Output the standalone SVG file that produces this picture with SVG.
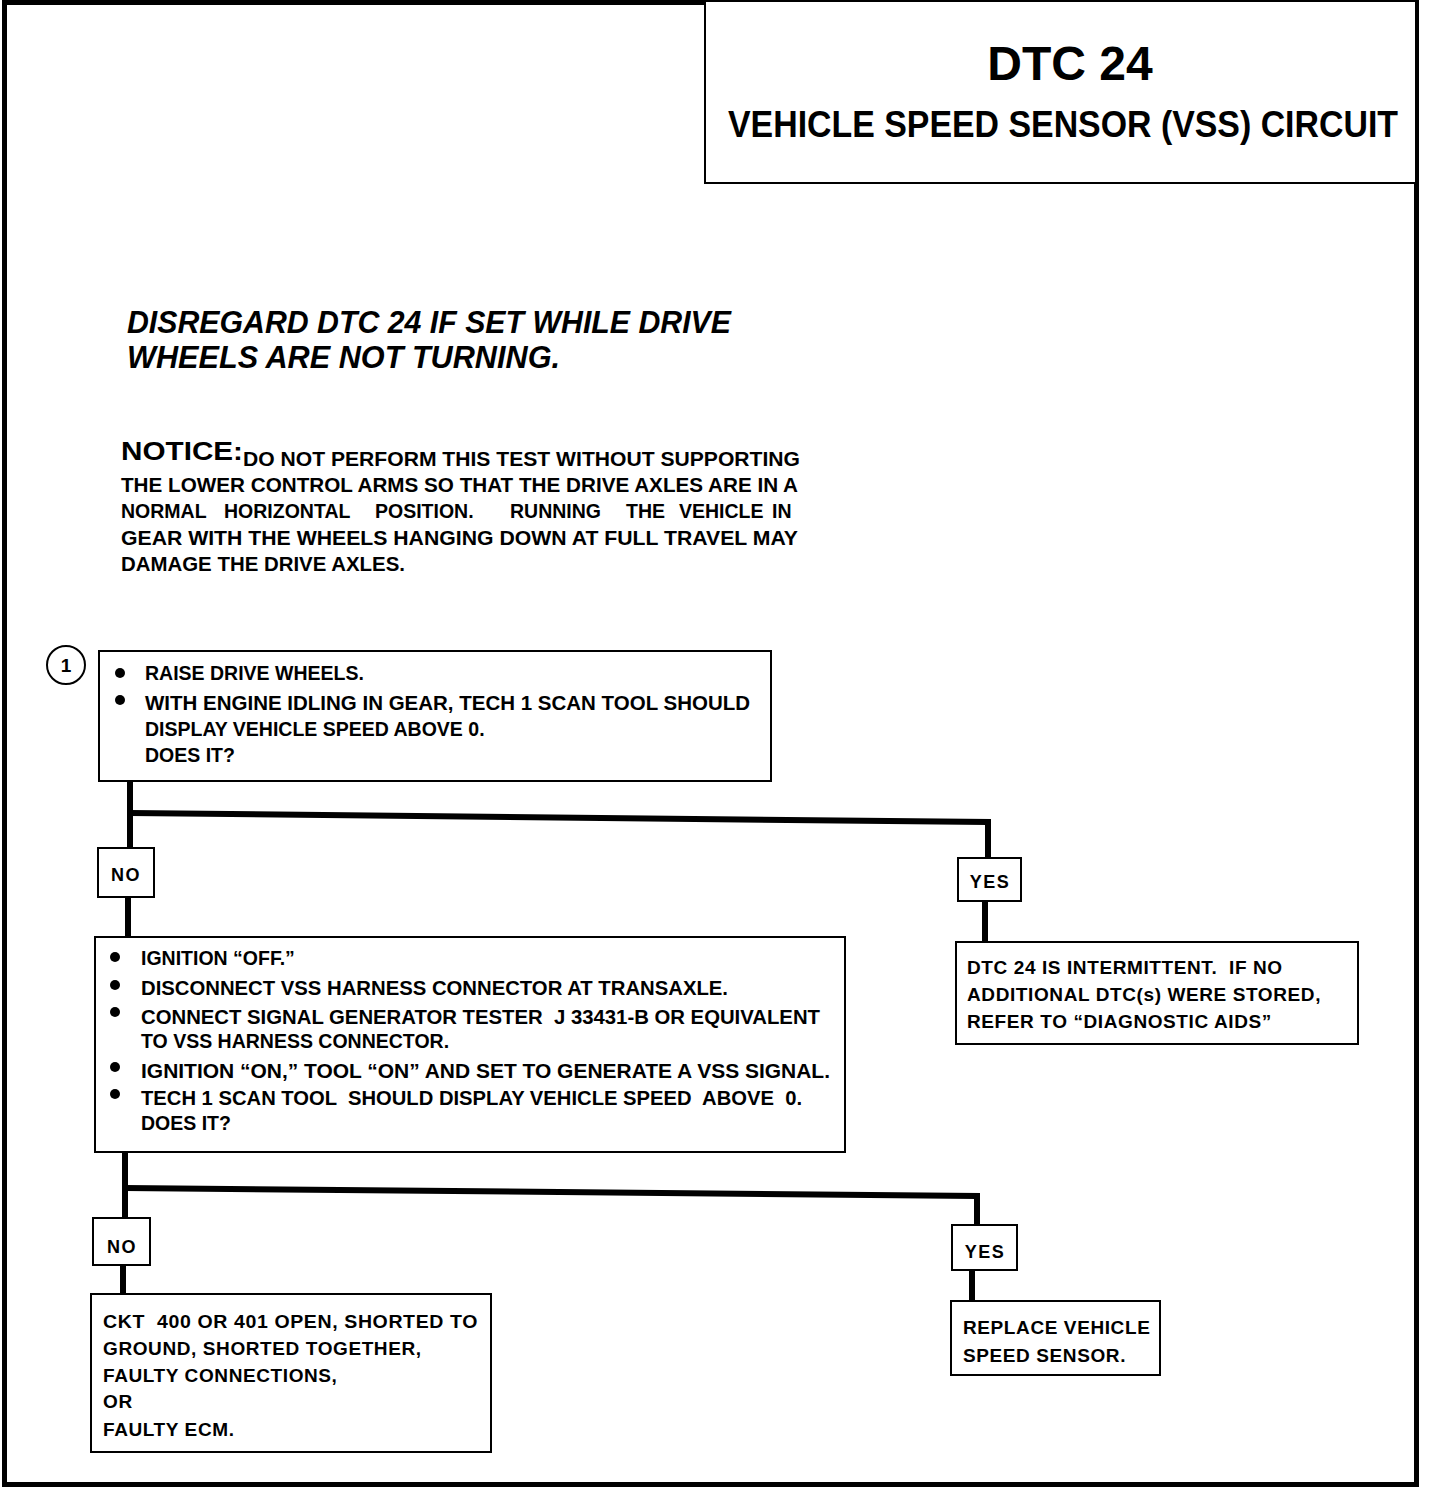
<svg xmlns="http://www.w3.org/2000/svg" width="1440" height="1488" viewBox="0 0 1440 1488">
<style>
.box{fill:#fff;stroke:#000;stroke-width:2}
.t{font-family:"Liberation Sans",Arial,sans-serif;font-weight:bold;fill:#000;white-space:pre}
.b{font-size:19.5px}
.r{font-size:19px;letter-spacing:0.6px}
.lbl{font-size:18px;letter-spacing:1.5px;text-anchor:middle}
.conn{fill:none;stroke:#000;stroke-width:6;stroke-linejoin:miter}
</style>
<rect x="0" y="0" width="1440" height="1488" fill="#fff"/>
<rect id="border" x="4.5" y="2.5" width="1412" height="1482" fill="none" stroke="#000" stroke-width="5"/>

<g id="title">
<rect class="box" x="705" y="1" width="711" height="182"/>
<text class="t" x="1070" y="80" font-size="48" text-anchor="middle">DTC 24</text>
<text class="t" x="728" y="137" font-size="36" textLength="670" lengthAdjust="spacingAndGlyphs">VEHICLE SPEED SENSOR (VSS) CIRCUIT</text>
</g>

<g id="disregard">
<text class="t" x="127" y="333" font-size="31" font-style="italic" textLength="604" lengthAdjust="spacingAndGlyphs">DISREGARD DTC 24 IF SET WHILE DRIVE</text>
<text class="t" x="127" y="368" font-size="31" font-style="italic" textLength="433" lengthAdjust="spacingAndGlyphs">WHEELS ARE NOT TURNING.</text>
</g>

<g id="notice">
<text class="t" x="121" y="460" font-size="25" textLength="122" lengthAdjust="spacingAndGlyphs">NOTICE:</text>
<text class="t" x="243" y="466" font-size="19.5" textLength="557" lengthAdjust="spacingAndGlyphs">DO NOT PERFORM THIS TEST WITHOUT SUPPORTING</text>
<text class="t" x="121" y="492" font-size="19.5" textLength="677" lengthAdjust="spacingAndGlyphs">THE LOWER CONTROL ARMS SO THAT THE DRIVE AXLES ARE IN A</text>
<text class="t" y="518" font-size="19.5"><tspan x="121">NORMAL</tspan><tspan x="224">HORIZONTAL</tspan><tspan x="375">POSITION.</tspan><tspan x="510">RUNNING</tspan><tspan x="626">THE</tspan><tspan x="679">VEHICLE</tspan><tspan x="772">IN</tspan></text>
<text class="t" x="121" y="545" font-size="19.5" textLength="677" lengthAdjust="spacingAndGlyphs">GEAR WITH THE WHEELS HANGING DOWN AT FULL TRAVEL MAY</text>
<text class="t" x="121" y="571" font-size="19.5" textLength="284" lengthAdjust="spacingAndGlyphs">DAMAGE THE DRIVE AXLES.</text>
</g>

<g id="connectors">
<polyline class="conn" points="130,782 130,848"/>
<polyline class="conn" points="130,813 988,822 988,858"/>
<polyline class="conn" points="128,897 128,937"/>
<polyline class="conn" points="985,901 985,942"/>
<polyline class="conn" points="125,1152 125,1218"/>
<polyline class="conn" points="125,1188 977,1196 977,1225"/>
<polyline class="conn" points="123,1265 123,1295"/>
<polyline class="conn" points="972,1270 972,1301"/>
</g>

<g id="step1">
<circle cx="66" cy="665" r="19" fill="#fff" stroke="#000" stroke-width="2"/>
<text class="t" x="66" y="672" font-size="19" text-anchor="middle">1</text>
</g>

<g id="box1">
<rect class="box" x="99" y="651" width="672" height="130"/>
<circle cx="120" cy="673" r="5"/>
<circle cx="120" cy="700" r="5"/>
<text class="t b" x="145" y="680">RAISE DRIVE WHEELS.</text>
<text class="t b" x="145" y="710" textLength="605" lengthAdjust="spacingAndGlyphs">WITH ENGINE IDLING IN GEAR, TECH 1 SCAN TOOL SHOULD</text>
<text class="t b" x="145" y="736">DISPLAY VEHICLE SPEED ABOVE 0.</text>
<text class="t b" x="145" y="762">DOES IT?</text>
</g>

<g id="no1">
<rect class="box" x="98" y="848" width="56" height="49"/>
<text class="t lbl" x="126" y="881">NO</text>
</g>

<g id="yes1">
<rect class="box" x="958" y="858" width="63" height="43"/>
<text class="t lbl" x="990" y="888">YES</text>
</g>

<g id="intermittent">
<rect class="box" x="956" y="942" width="402" height="102"/>
<text class="t r" x="967" y="974">DTC 24 IS INTERMITTENT.  IF NO</text>
<text class="t r" x="967" y="1001">ADDITIONAL DTC(s) WERE STORED,</text>
<text class="t r" x="967" y="1028">REFER TO “DIAGNOSTIC AIDS”</text>
</g>

<g id="box2">
<rect class="box" x="95" y="937" width="750" height="215"/>
<circle cx="115" cy="957" r="5"/>
<circle cx="115" cy="985" r="5"/>
<circle cx="115" cy="1012" r="5"/>
<circle cx="115" cy="1067" r="5"/>
<circle cx="115" cy="1094" r="5"/>
<text class="t b" x="141" y="965">IGNITION “OFF.”</text>
<text class="t b" x="141" y="995" textLength="587" lengthAdjust="spacingAndGlyphs">DISCONNECT VSS HARNESS CONNECTOR AT TRANSAXLE.</text>
<text class="t b" x="141" y="1024" textLength="679" lengthAdjust="spacingAndGlyphs">CONNECT SIGNAL GENERATOR TESTER  J 33431-B OR EQUIVALENT</text>
<text class="t b" x="141" y="1048">TO VSS HARNESS CONNECTOR.</text>
<text class="t b" x="141" y="1078" textLength="689" lengthAdjust="spacingAndGlyphs">IGNITION “ON,” TOOL “ON” AND SET TO GENERATE A VSS SIGNAL.</text>
<text class="t b" x="141" y="1105" textLength="661" lengthAdjust="spacingAndGlyphs">TECH 1 SCAN TOOL  SHOULD DISPLAY VEHICLE SPEED  ABOVE  0.</text>
<text class="t b" x="141" y="1130">DOES IT?</text>
</g>

<g id="no2">
<rect class="box" x="93" y="1218" width="57" height="47"/>
<text class="t lbl" x="122" y="1253">NO</text>
</g>

<g id="yes2">
<rect class="box" x="952" y="1225" width="65" height="45"/>
<text class="t lbl" x="985" y="1258">YES</text>
</g>

<g id="ckt">
<rect class="box" x="91" y="1294" width="400" height="158"/>
<text class="t r" x="103" y="1328" textLength="375" lengthAdjust="spacingAndGlyphs">CKT  400 OR 401 OPEN, SHORTED TO</text>
<text class="t r" x="103" y="1355">GROUND, SHORTED TOGETHER,</text>
<text class="t r" x="103" y="1382">FAULTY CONNECTIONS,</text>
<text class="t r" x="103" y="1408">OR</text>
<text class="t r" x="103" y="1436">FAULTY ECM.</text>
</g>

<g id="replace">
<rect class="box" x="951" y="1301" width="209" height="74"/>
<text class="t r" x="963" y="1334">REPLACE VEHICLE</text>
<text class="t r" x="963" y="1362">SPEED SENSOR.</text>
</g>
</svg>
